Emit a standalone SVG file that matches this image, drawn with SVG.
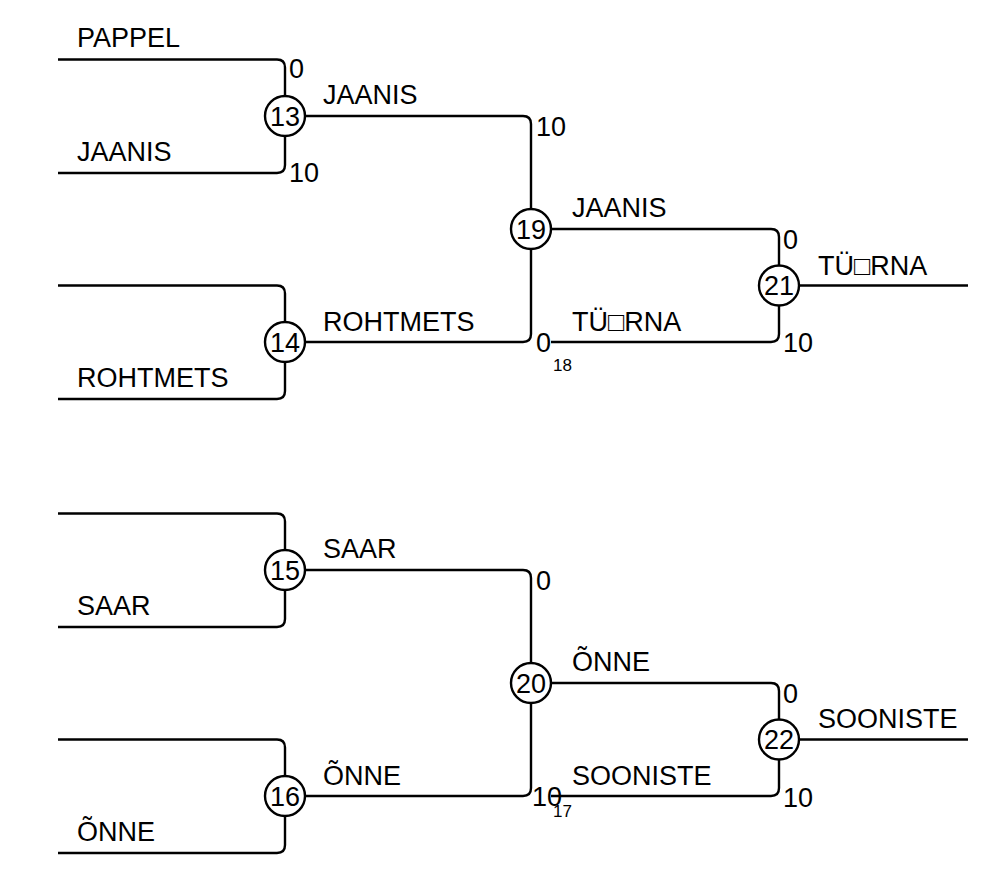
<svg xmlns="http://www.w3.org/2000/svg" width="983" height="869" viewBox="0 0 983 869">
<style>
.ln{fill:none;stroke:#000;stroke-width:2.4}
.nd{fill:#fff;stroke:#000;stroke-width:2.4}
text{font-family:"Liberation Sans",Arial,sans-serif;font-size:27px;fill:#000}
.num{text-anchor:middle}
.sm{font-size:17px}
</style>
<rect width="983" height="869" fill="#fff"/>
<g id="connectors">
<path class="ln" d="M58,59.5 H277 Q285,59.5 285,67.5 V116 M58,173 H277 Q285,173 285,165 V116"/>
<path class="ln" d="M58,285.5 H277 Q285,285.5 285,293.5 V342 M58,399 H277 Q285,399 285,391 V342"/>
<path class="ln" d="M285,116 H523 Q531,116 531,124 V229 M285,342 H523 Q531,342 531,334 V229"/>
<path class="ln" d="M531,229 H771 Q779,229 779,237 V285.5 M551,342 H771 Q779,342 779,334 V285.5"/>
<path class="ln" d="M779,285.5 H968"/>
<path class="ln" d="M58,513.5 H277 Q285,513.5 285,521.5 V570 M58,627 H277 Q285,627 285,619 V570"/>
<path class="ln" d="M58,739.5 H277 Q285,739.5 285,747.5 V796 M58,853 H277 Q285,853 285,845 V796"/>
<path class="ln" d="M285,570 H523 Q531,570 531,578 V683 M285,796 H523 Q531,796 531,788 V683"/>
<path class="ln" d="M531,683 H771 Q779,683 779,691 V739.5 M551,796 H771 Q779,796 779,788 V739.5"/>
<path class="ln" d="M779,739.5 H968"/>
</g>
<g id="n13"><circle class="nd" cx="285" cy="116" r="20"/><text class="num" x="285" y="125.5">13</text></g>
<g id="n14"><circle class="nd" cx="285" cy="342" r="20"/><text class="num" x="285" y="351.5">14</text></g>
<g id="n19"><circle class="nd" cx="531" cy="229" r="20"/><text class="num" x="531" y="238.5">19</text></g>
<g id="n21"><circle class="nd" cx="779" cy="285.5" r="20"/><text class="num" x="779" y="295">21</text></g>
<g id="n15"><circle class="nd" cx="285" cy="570" r="20"/><text class="num" x="285" y="579.5">15</text></g>
<g id="n16"><circle class="nd" cx="285" cy="796" r="20"/><text class="num" x="285" y="805.5">16</text></g>
<g id="n20"><circle class="nd" cx="531" cy="683" r="20"/><text class="num" x="531" y="692.5">20</text></g>
<g id="n22"><circle class="nd" cx="779" cy="739.5" r="20"/><text class="num" x="779" y="749">22</text></g>
<g id="labels">
<text x="77" y="47">PAPPEL</text>
<text x="77" y="161">JAANIS</text>
<text x="289" y="78">0</text>
<text x="289" y="182">10</text>
<text x="77" y="387">ROHTMETS</text>
<text x="323" y="104">JAANIS</text>
<text x="323" y="331">ROHTMETS</text>
<text x="536" y="136">10</text>
<text x="536" y="352">0</text>
<text class="sm" x="553" y="371">18</text>
<text x="572" y="217">JAANIS</text>
<text x="572" y="331">TÜ□RNA</text>
<text x="783" y="249">0</text>
<text x="783" y="352">10</text>
<text x="818" y="275">TÜ□RNA</text>
<text x="77" y="615">SAAR</text>
<text x="77" y="841">ÕNNE</text>
<text x="323" y="558">SAAR</text>
<text x="323" y="785">ÕNNE</text>
<text x="536" y="590">0</text>
<text x="532" y="806">10</text>
<text class="sm" x="553" y="817">17</text>
<text x="572" y="671">ÕNNE</text>
<text x="572" y="785">SOONISTE</text>
<text x="783" y="703">0</text>
<text x="783" y="807">10</text>
<text x="818" y="728">SOONISTE</text>
</g>
</svg>
